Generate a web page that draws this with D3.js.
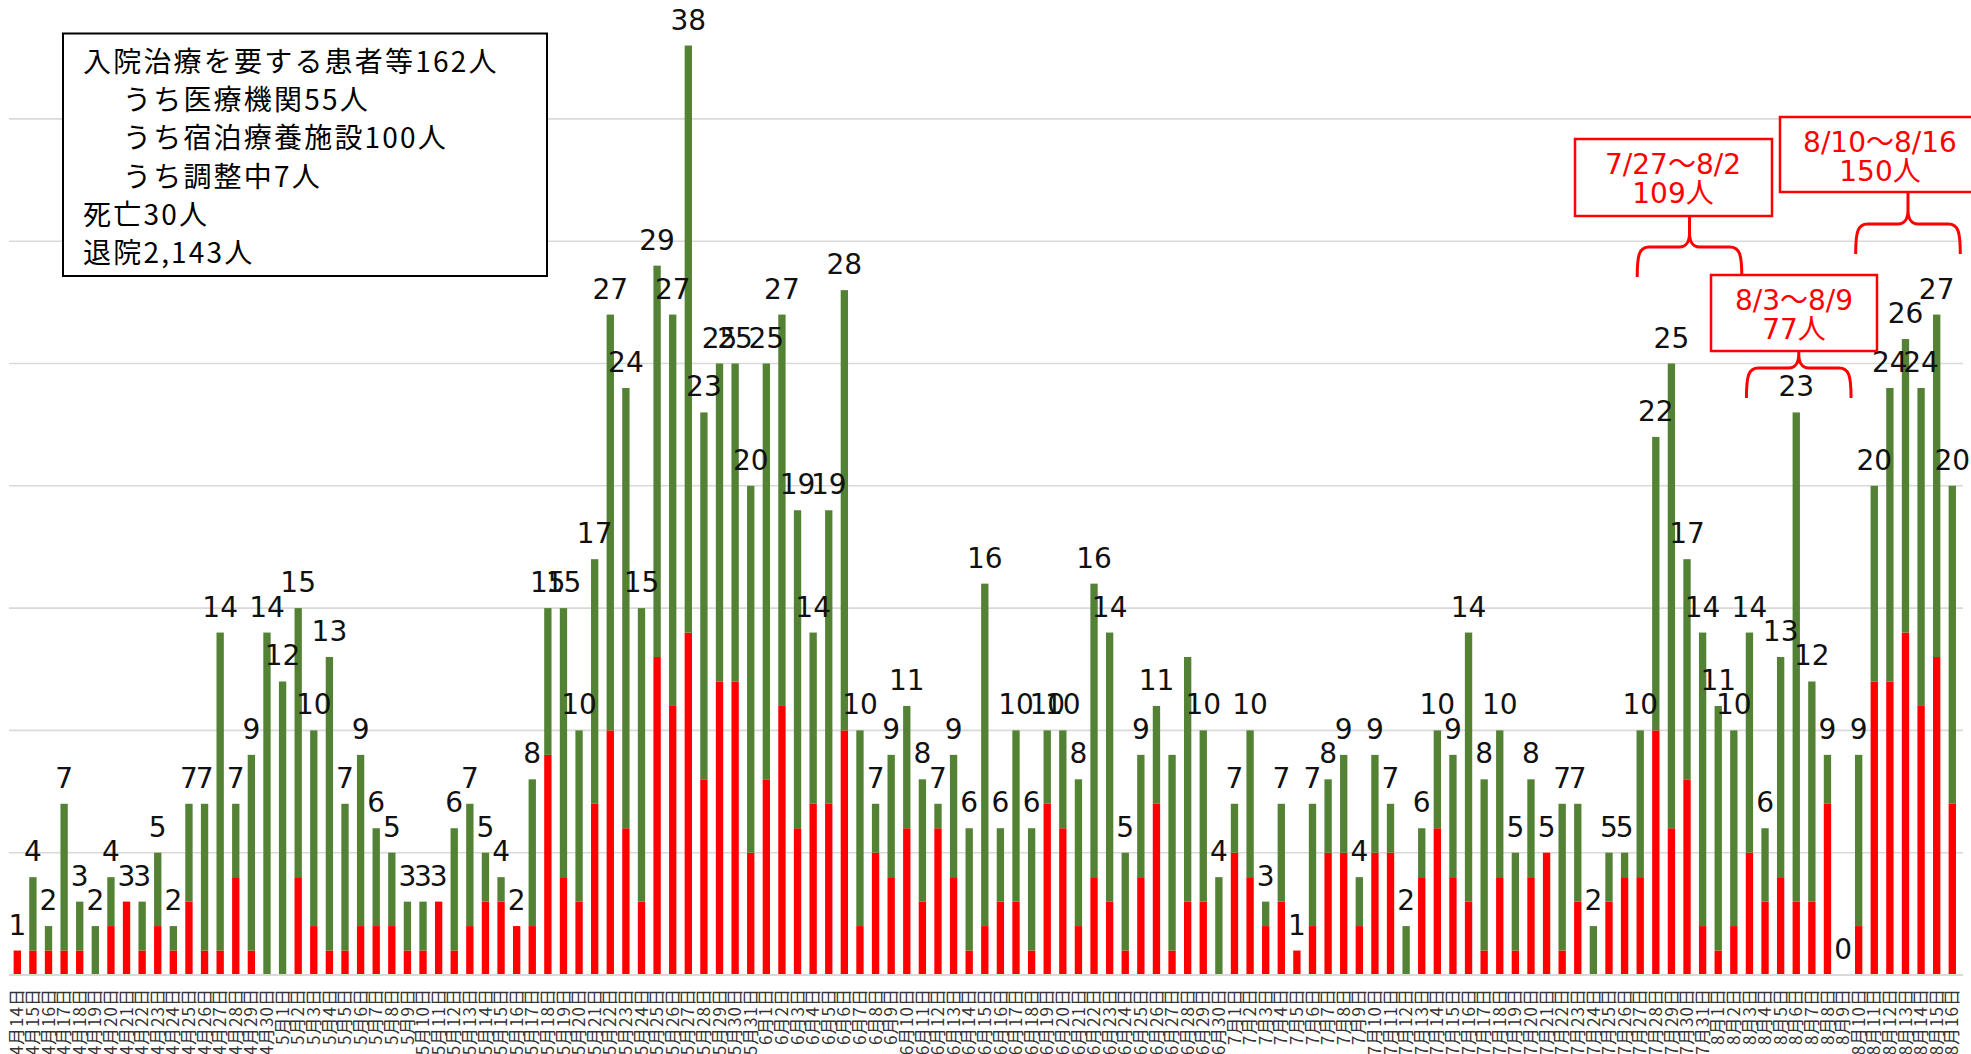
<!DOCTYPE html>
<html><head><meta charset="utf-8">
<script src="https://cdn.jsdelivr.net/npm/d3@7"></script>
<style>html,body{margin:0;padding:0;background:#fff;overflow:hidden}svg{display:block}</style>
</head><body><svg id="c" width="1971" height="1054"></svg>
<script>
// ---------- data ----------
const dates = [
 "4月14日","4月15日","4月16日","4月17日","4月18日","4月19日","4月20日","4月21日","4月22日","4月23日","4月24日","4月25日","4月26日","4月27日","4月28日","4月29日","4月30日",
 "5月1日","5月2日","5月3日","5月4日","5月5日","5月6日","5月7日","5月8日","5月9日","5月10日","5月11日","5月12日","5月13日","5月14日","5月15日","5月16日","5月17日","5月18日","5月19日","5月20日","5月21日","5月22日","5月23日","5月24日","5月25日","5月26日","5月27日","5月28日","5月29日","5月30日","5月31日",
 "6月1日","6月2日","6月3日","6月4日","6月5日","6月6日","6月7日","6月8日","6月9日","6月10日","6月11日","6月12日","6月13日","6月14日","6月15日","6月16日","6月17日","6月18日","6月19日","6月20日","6月21日","6月22日","6月23日","6月24日","6月25日","6月26日","6月27日","6月28日","6月29日","6月30日",
 "7月1日","7月2日","7月3日","7月4日","7月5日","7月6日","7月7日","7月8日","7月9日","7月10日","7月11日","7月12日","7月13日","7月14日","7月15日","7月16日","7月17日","7月18日","7月19日","7月20日","7月21日","7月22日","7月23日","7月24日","7月25日","7月26日","7月27日","7月28日","7月29日","7月30日","7月31日",
 "8月1日","8月2日","8月3日","8月4日","8月5日","8月6日","8月7日","8月8日","8月9日","8月10日","8月11日","8月12日","8月13日","8月14日","8月15日","8月16日"
];
const totals = [
 1,4,2,7,3,2,4,3,3,5,2,7,7,14,7,9,14,
 12,15,10,13,7,9,6,5,3,3,3,6,7,5,4,2,8,15,15,10,17,27,24,15,29,27,38,23,25,25,20,
 25,27,19,14,19,28,10,7,9,11,8,7,9,6,16,6,10,6,10,10,8,16,14,5,9,11,9,13,10,4,
 7,10,3,7,1,7,8,9,4,9,7,2,6,10,9,14,8,10,5,8,5,7,7,2,5,5,10,22,25,17,14,
 11,10,14,6,13,23,12,9,0,9,20,24,26,24,27,20
];
const redValues = [
 1,1,1,1,1,0,2,3,1,2,1,3,1,1,4,1,0,
 0,4,2,1,1,2,2,2,1,1,3,1,2,3,3,2,2,9,4,3,7,10,6,3,13,11,14,8,12,12,5,
 8,11,6,7,7,10,2,5,4,6,3,6,4,1,2,3,3,1,7,6,2,4,3,1,4,7,1,3,3,0,
 5,4,2,3,1,2,5,5,2,5,5,0,4,6,4,3,1,4,1,4,5,1,3,0,3,4,4,10,6,8,2,
 1,2,5,3,4,3,3,7,0,2,12,12,14,11,13,7
];
const hiddenLabels = ["6月27日","6月28日"];
const gridTicks = [5,10,15,20,25,30,35];
const summaryLines = [
 {text:"入院治療を要する患者等162人", level:0},
 {text:"うち医療機関55人", level:1},
 {text:"うち宿泊療養施設100人", level:1},
 {text:"うち調整中7人", level:1},
 {text:"死亡30人", level:0},
 {text:"退院2,143人", level:0}
];
const annotations = [
 {from:"7月27日", to:"8月2日", lines:["7/27～8/2","109人"]},
 {from:"8月3日", to:"8月9日", lines:["8/3～8/9","77人"]},
 {from:"8月10日", to:"8月16日", lines:["8/10～8/16","150人"]}
];

// ---------- layout ----------
const svg = d3.select("#c");
svg.append("rect").attr("width",1971).attr("height",1054).attr("fill","#fff");
const base = 975;
const x = d3.scaleBand().domain(dates).range([9.5,1960.1]).paddingInner(0.53).paddingOuter(0.265);
const y = d3.scaleLinear().domain([0,40]).range([base,-3.4]);
const cx = d => x(d) + x.bandwidth()/2;

// gridlines
svg.append("g").selectAll("line").data(gridTicks).join("line")
  .attr("x1",9).attr("x2",1963).attr("y1",d=>y(d)).attr("y2",d=>y(d))
  .attr("stroke","#d9d9d9").attr("stroke-width",1.6);

// stacked bars
const rows = dates.map((d,i)=>({date:d, red:redValues[i], green:totals[i]-redValues[i]}));
const stacked = d3.stack().keys(["red","green"])(rows);
const colors = {red:"#ff0000", green:"#548235"};
svg.append("g").selectAll("g").data(stacked).join("g")
  .attr("fill", s=>colors[s.key])
  .selectAll("rect").data(s=>s).join("rect")
  .attr("x", d=>x(d.data.date)).attr("width", x.bandwidth())
  .attr("y", d=>y(d[1])).attr("height", d=>y(d[0])-y(d[1]));

// baseline
svg.append("line").attr("x1",9).attr("x2",1963).attr("y1",base).attr("y2",base)
  .attr("stroke","#d9d9d9").attr("stroke-width",2);

// x axis labels
const ax = svg.append("g").attr("transform",`translate(0,${base})`)
  .call(d3.axisBottom(x).tickSize(0).tickSizeOuter(0));
ax.select(".domain").remove();
ax.selectAll("text")
  .attr("transform","rotate(-90)")
  .attr("text-anchor","end")
  .attr("x",-13).attr("y",0).attr("dy","0.36em")
  .attr("font-family","'Noto Sans CJK JP', sans-serif")
  .attr("font-size",17).attr("letter-spacing",1).attr("fill","#333");

// value labels
svg.append("g").selectAll("text")
  .data(dates.map((d,i)=>({d, v:totals[i]})).filter(o=>!hiddenLabels.includes(o.d)))
  .join("text")
  .attr("x", o=>cx(o.d)).attr("y", o=>y(o.v)-16)
  .attr("text-anchor","middle")
  .attr("font-family","'DejaVu Sans', sans-serif").attr("font-size",28).attr("fill","#111")
  .text(o=>o.v);

// summary box
const sb = svg.append("g");
sb.append("rect").attr("x",63).attr("y",33.5).attr("width",484).attr("height",242.5)
  .attr("fill","#fff").attr("stroke","#000").attr("stroke-width",2);
sb.selectAll("text").data(summaryLines).join("text")
  .attr("x", d=> d.level ? 123 : 83)
  .attr("y", (d,i)=> 72 + i*38.2)
  .attr("font-family","'Noto Sans CJK JP', sans-serif").attr("font-size",28)
  .attr("letter-spacing",2.2).attr("fill","#000")
  .text(d=>d.text);

// annotations
const boxLayout = [
 {x:1575, y:139, w:197, h:77, tx:1673, tipY:216, midY:247, endY:277},
 {x:1711, y:275, w:166, h:76, tx:1794, tipY:351, midY:368, endY:398},
 {x:1780, y:117, w:205, h:75, tx:1880, tipY:192, midY:224, endY:254}
];
annotations.forEach((a,k)=>{
  const L = boxLayout[k];
  const g = svg.append("g");
  g.append("rect").attr("x",L.x).attr("y",L.y).attr("width",L.w).attr("height",L.h)
    .attr("fill","#fff").attr("stroke","#ff0000").attr("stroke-width",2.5);
  g.selectAll("text").data(a.lines).join("text")
    .attr("x",L.tx).attr("y",(d,i)=>L.y+35+i*29)
    .attr("text-anchor","middle")
    .attr("font-family","'DejaVu Sans','Noto Sans CJK JP', sans-serif").attr("font-size",28)
    .attr("fill","#ff0000").text(d=>d);
  const l = cx(a.from) - 3, r = cx(a.to) + 8, t = (l+r)/2;
  const m = L.midY, e = L.endY, ty = L.tipY;
  const p = `M${l},${e} C${l},${m+8} ${l+2},${m} ${l+12},${m} L${t-10},${m} C${t-3},${m} ${t},${m-6} ${t},${m-14} L${t},${ty} L${t},${m-14} C${t},${m-6} ${t+3},${m} ${t+10},${m} L${r-12},${m} C${r-2},${m} ${r},${m+8} ${r},${e}`;
  g.append("path").attr("d",p).attr("fill","none").attr("stroke","#ff0000").attr("stroke-width",3);
});
</script>
</body></html>
